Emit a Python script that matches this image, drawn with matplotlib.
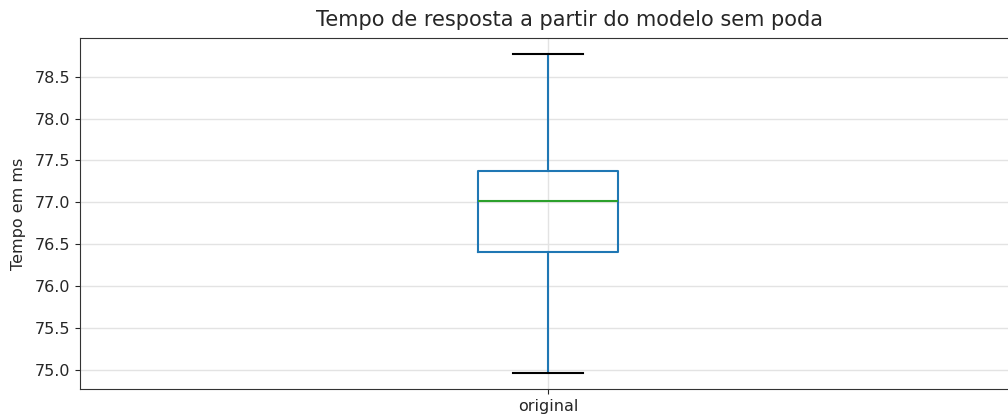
import matplotlib
matplotlib.use("Agg")
import matplotlib.pyplot as plt

# five-number summary
LABEL = "original"
WHISKER_LOW = 74.965
Q1 = 76.41
MEDIAN = 77.02
Q3 = 77.38
WHISKER_HIGH = 78.77

TITLE = "Tempo de resposta a partir do modelo sem poda"
YLABEL = "Tempo em ms"

TEXT_COLOR = "#262626"


def main():
    plt.rcParams["text.color"] = TEXT_COLOR
    plt.rcParams["axes.labelcolor"] = TEXT_COLOR
    plt.rcParams["xtick.color"] = TEXT_COLOR
    plt.rcParams["ytick.color"] = TEXT_COLOR

    fig = plt.figure(figsize=(10.08, 4.19), dpi=100)
    # axes run a little past the right edge of the picture, as in the reference
    ax = fig.add_axes([80 / 1008, 1 - 389 / 419, 936 / 1008, 351 / 419])

    stats = [{
        "label": LABEL,
        "whislo": WHISKER_LOW,
        "q1": Q1,
        "med": MEDIAN,
        "q3": Q3,
        "whishi": WHISKER_HIGH,
        "fliers": [],
    }]
    ax.bxp(
        stats,
        widths=0.15,
        showfliers=False,
        boxprops=dict(color="#1f77b4", linewidth=1.5),
        whiskerprops=dict(color="#1f77b4", linewidth=1.5),
        medianprops=dict(color="#2ca02c", linewidth=1.5),
        capprops=dict(color="black", linewidth=1.5),
    )

    for s in ax.spines.values():
        s.set_color("#333333")
    ax.grid(True, color="#e3e3e3", linewidth=1.0)
    ax.set_axisbelow(True)
    ax.set_ylabel(YLABEL, fontsize=11.5, labelpad=6)
    ax.tick_params(labelsize=11.5)
    fig.text(569.5 / 1008, 1 - 20 / 419, TITLE, ha="center", va="center", fontsize=15)

    fig.savefig("out.png", dpi=100)


if __name__ == "__main__":
    main()
